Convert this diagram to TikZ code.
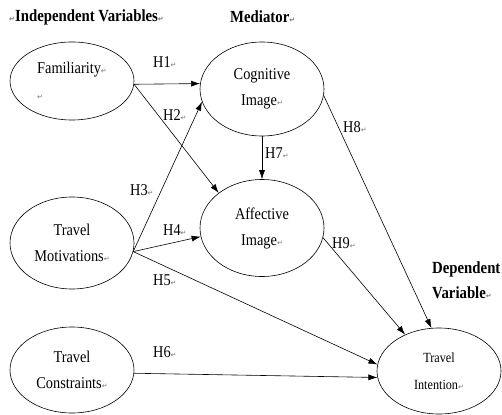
\documentclass[tikz,border=0pt]{standalone}
\usepackage{fontspec}
\setmainfont{Liberation Serif}[FakeStretch=0.87]
\newfontfamily\symfont{DejaVu Sans}
\usetikzlibrary{shapes}
\usetikzlibrary{arrows.meta}
\newcommand{\rmark}{{\symfont\fontsize{7}{7}\selectfont\color{black!55}\char"21B5}}

\begin{document}
\begin{tikzpicture}[x=1pt,y=-1pt,
  var/.style={draw,ellipse,line width=0.6pt,inner sep=0pt,minimum width=124pt,align=center,font=\fontsize{16.5}{26}\selectfont},
  hyp/.style={anchor=west,inner sep=0pt,font=\fontsize{16.5}{16}\selectfont},
  title/.style={anchor=west,inner sep=0pt,align=left,font=\bfseries\fontsize{17}{25}\selectfont},
  link/.style={-{Latex[length=9pt,width=6pt]},line width=0.6pt}]
  \useasboundingbox (0,0) rectangle (502,414);
  % headings
  \node[title] (indep) at (9,17) {\rmark Independent Variables\rmark};
  \node[title] (medi) at (230,17) {Mediator\rmark};
  \node[title] (dep) at (432,280) {Dependent\\Variable\rmark};
  % variables
  \node[var,minimum height=78pt,align=left] (fam) at (72,81) {Familiarity\rmark\\\rmark};
  \node[var,minimum height=94pt] (cog) at (262,89) {Cognitive\\Image\rmark};
  \node[var,minimum height=97pt] (aff) at (262,228) {Affective\\Image\rmark};
  \node[var,minimum height=92pt] (mot) at (72,243) {Travel\\Motivations\rmark};
  \node[var,minimum height=86pt] (con) at (72,370) {Travel\\Constraints\rmark};
  \node[var,minimum height=86pt,font=\fontsize{14}{27}\selectfont] (int) at (439,371) {Travel\\Intention\rmark};
  % paths
  \draw[link] (fam.-3) -- (cog.175);
  \draw[link] (fam.-3) -- (aff.141);
  \draw[link] (mot.-8) -- (cog.192);
  \draw[link] (mot.-8) -- (aff.188);
  \draw[link] (mot.-8) -- (int.174);
  \draw[link] (con.-3) -- (int.186);
  \draw[link] (cog.south) -- (aff.north);
  \draw[link] (cog.-6) -- (int.100);
  \draw[link] (aff.-9) -- (int.133);
  % hypotheses
  \node[hyp] (h1) at (153,62) {H1\rmark};
  \node[hyp] (h2) at (163,115) {H2\rmark};
  \node[hyp] (h3) at (130,190) {H3\rmark};
  \node[hyp] (h4) at (163,230) {H4\rmark};
  \node[hyp] (h5) at (153,280) {H5\rmark};
  \node[hyp] (h6) at (153,352) {H6\rmark};
  \node[hyp] (h7) at (265,153) {H7\rmark};
  \node[hyp] (h8) at (343,127) {H8\rmark};
  \node[hyp] (h9) at (332,243) {H9\rmark};
\end{tikzpicture}
\end{document}
